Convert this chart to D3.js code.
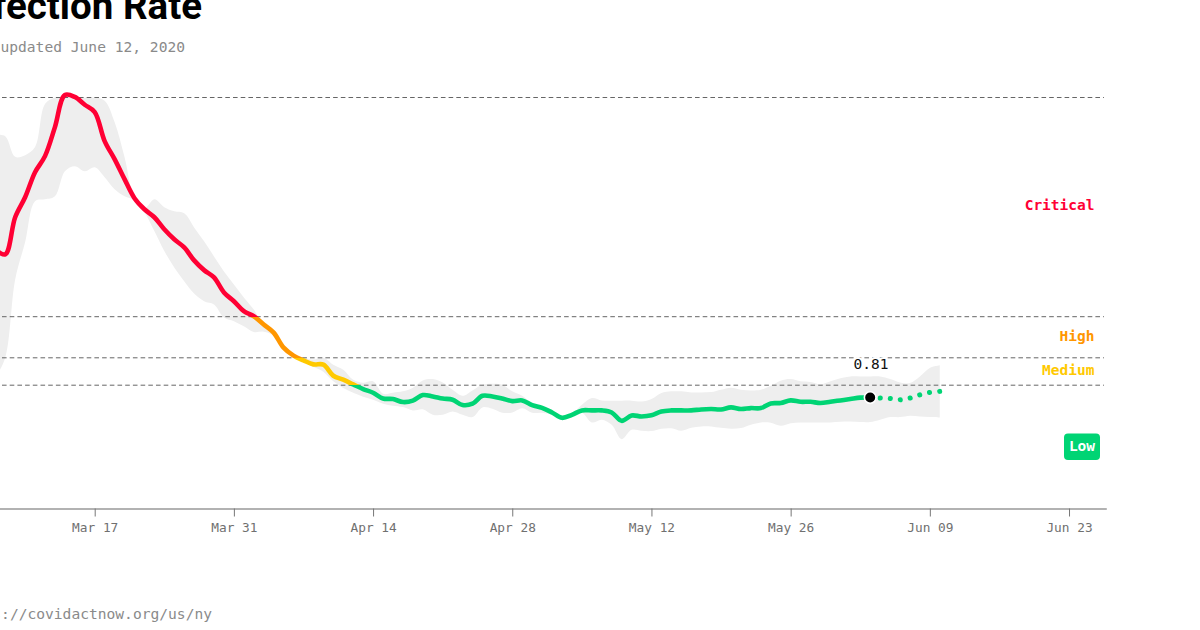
<!DOCTYPE html>
<html><head><meta charset="utf-8">
<script src="https://cdn.jsdelivr.net/npm/d3@7"></script>
<style>
html,body{margin:0;padding:0;background:#fff;overflow:hidden}
svg{display:block}
text{font-family:"DejaVu Sans Mono",monospace}
</style></head><body>
<svg id="c" width="1200" height="630"></svg>
<script>
const titleText = "Infection Rate";
const subtitleText = "Last updated June 12, 2020";
const footerText = "https://covidactnow.org/us/ny";
const startDate = [2020, 2, 7];
const rt = [1.891,1.855,2.126,2.272,2.455,2.572,2.784,3.018,3.004,2.947,2.894,2.682,2.550,2.404,2.265,2.184,2.126,2.038,1.965,1.906,1.811,1.740,1.687,1.577,1.513,
1.440,1.403,1.343,1.284,1.174,1.116,1.081,1.052,1.050,0.969,0.940,0.906,0.872,0.845,0.803,0.799,0.777,0.787,0.828,0.818,0.803,0.794,0.755,0.765,0.823,0.818,0.803,0.784,0.789,0.755,
0.735,0.701,0.662,0.684,0.716,0.716,0.716,0.701,0.640,0.679,0.672,0.680,0.708,0.716,0.716,0.716,0.723,0.726,0.723,0.738,0.726,0.733,0.733,0.767,0.770,0.789,0.779,0.779,0.770,0.779,0.789,
0.799,0.809,0.810,0.806,0.803,0.794,0.806,0.830,0.847,0.855];
const upper = [2.728,2.718,2.567,2.579,2.638,2.952,3.2,3.3,3.3,3.3,3.15,2.977,2.821,2.565,2.265,2.19,2.257,2.199,2.169,2.155,2.052,1.950,1.840,1.730,1.635,
1.540,1.452,1.343,1.284,1.174,1.116,1.101,1.087,1.101,1.050,1.013,0.940,0.918,0.928,0.838,0.845,0.855,0.882,0.935,0.945,0.920,0.867,0.823,0.862,0.904,0.911,0.904,0.855,0.823,0.770,
0.745,0.721,0.672,0.691,0.757,0.806,0.789,0.787,0.787,0.787,0.781,0.799,0.843,0.855,0.855,0.847,0.847,0.850,0.867,0.882,0.867,0.862,0.867,0.896,0.933,0.945,0.928,0.923,0.906,0.928,0.950,
0.964,0.964,0.964,0.964,0.945,0.920,0.916,0.964,1.026,1.045];
const lower = [0.955,1.101,1.672,1.943,2.243,2.257,2.279,2.462,2.499,2.462,2.491,2.418,2.330,2.279,2.250,2.162,2.025,1.879,1.760,1.659,1.569,1.513,1.489,1.394,1.367,
1.330,1.289,1.291,1.262,1.167,1.108,1.072,1.035,0.999,0.928,0.879,0.845,0.816,0.794,0.765,0.750,0.740,0.716,0.724,0.684,0.684,0.708,0.684,0.667,0.738,0.728,0.699,0.701,0.732,0.699,
0.699,0.684,0.655,0.677,0.699,0.628,0.648,0.611,0.506,0.574,0.567,0.565,0.582,0.585,0.567,0.589,0.599,0.599,0.589,0.582,0.587,0.611,0.628,0.626,0.604,0.623,0.628,0.628,0.628,0.628,0.633,
0.635,0.631,0.631,0.648,0.667,0.667,0.677,0.672,0.667,0.664];
const forecastFrom = 88;
const thresholds = [0.9, 1.1, 1.4, 3.0];
const zoneNames = ["Low", "Medium", "High", "Critical"];
const zoneColors = ["#00d474", "#ffc900", "#ff9600", "#ff0034"];
const tickDates = [[2,17],[2,31],[3,14],[3,28],[4,12],[4,26],[5,9],[5,23]];
const currentValueLabel = "0.81";

const day = i => new Date(Date.UTC(startDate[0], startDate[1], startDate[2] + i));
const rows = rt.map((v, i) => ({date: day(i), v, hi: upper[i], lo: lower[i]}));

const x = d3.scaleUtc()
  .domain([new Date(Date.UTC(2020,2,7)), new Date(Date.UTC(2020,5,26,18))])
  .range([-4.72, 1106.3]);
const y = d3.scaleLinear().domain([0, 3]).range([508.5, 97.5]);
const yBand = y.copy().clamp(true);

const svg = d3.select("#c");
const defs = svg.append("defs");

// colour of the line by zone
const bounds = [0, ...thresholds];
const grad = defs.append("linearGradient").attr("id","zone")
  .attr("gradientUnits","userSpaceOnUse")
  .attr("x1",0).attr("x2",0).attr("y1",y(0)).attr("y2",y(3));
zoneColors.forEach((c, i) => {
  grad.append("stop").attr("offset", bounds[i]/3).attr("stop-color", c);
  grad.append("stop").attr("offset", bounds[i+1]/3).attr("stop-color", c);
});
defs.append("clipPath").attr("id","plot").append("rect")
  .attr("x",-10).attr("y",y(3)).attr("width",1200).attr("height",y(0)-y(3));

// band
svg.append("path").datum(rows).attr("fill","#eeeeee").attr("clip-path","url(#plot)")
  .attr("d", d3.area().curve(d3.curveCatmullRom.alpha(0.5))
    .x(d=>x(d.date)).y0(d=>yBand(d.lo)).y1(d=>yBand(d.hi)));

// thresholds
svg.append("g").selectAll("line").data(thresholds).join("line")
  .attr("x1",2).attr("x2",1104)
  .attr("y1",d=>y(d)).attr("y2",d=>y(d))
  .attr("stroke","#666").attr("stroke-width",1).attr("stroke-dasharray","4.6,3.1");

// axis
const axis = d3.axisBottom(x)
  .tickValues(tickDates.map(([m,d])=>new Date(Date.UTC(2020,m,d))))
  .tickFormat(d3.utcFormat("%b %d")).tickSize(8).tickSizeOuter(0).tickPadding(6);
const gx = svg.append("g").attr("transform",`translate(0,${y(0)})`).call(axis);
gx.select(".domain").attr("stroke","#666").attr("stroke-width",1.2);
gx.selectAll(".tick line").attr("stroke","#777");
gx.selectAll(".tick text").attr("fill","#707070").attr("font-size",12.8)
  .attr("font-family",'"DejaVu Sans Mono",monospace');

// line
const line = d3.line().curve(d3.curveCatmullRom.alpha(0.5)).x(d=>x(d.date)).y(d=>y(d.v));
svg.append("path").datum(rows.slice(0, forecastFrom+1))
  .attr("fill","none").attr("stroke","url(#zone)").attr("stroke-width",4.6)
  .attr("stroke-linejoin","round").attr("d",line);
svg.append("path").datum(rows.slice(forecastFrom))
  .attr("fill","none").attr("stroke",zoneColors[0]).attr("stroke-width",5)
  .attr("stroke-linecap","round").attr("stroke-dasharray","0.1,9.95").attr("d",line);

// current point
const cur = rows[forecastFrom];
svg.append("circle").attr("cx",x(cur.date)).attr("cy",y(cur.v)).attr("r",5.8)
  .attr("fill","#000").attr("stroke","#fff").attr("stroke-width",1.6);
svg.append("text").attr("x",x(cur.date)+0.8).attr("y",y(cur.v)-29).attr("text-anchor","middle")
  .attr("font-size",14.5).attr("font-weight",500).attr("fill","#111")
  .attr("stroke","#fff").attr("stroke-width",4).attr("paint-order","stroke")
  .text(currentValueLabel);

// zone labels
const labelX = 1094.5;
[[3,210],[2,340.5],[1,374.5]].forEach(([i,by])=>{
  svg.append("text").attr("x",labelX).attr("y",by).attr("text-anchor","end")
    .attr("font-size",14.5).attr("font-weight",700).attr("fill",zoneColors[i]).text(zoneNames[i]);
});
svg.append("rect").attr("x",1064).attr("y",433.5).attr("width",36).attr("height",26.5).attr("rx",4)
  .attr("fill",zoneColors[0]);
svg.append("text").attr("x",1082).attr("y",451).attr("text-anchor","middle")
  .attr("font-size",14.5).attr("font-weight",700).attr("fill","#fff").text(zoneNames[0]);

// header, footer
svg.append("text").attr("x",202).attr("y",18.5).attr("text-anchor","end")
  .style("font-family","Roboto").attr("font-size",38.5).attr("font-weight",700).attr("fill","#000").text(titleText);
svg.append("text").attr("x",185).attr("y",52).attr("text-anchor","end")
  .attr("font-size",14.6).attr("fill","#8a8a8a").text(subtitleText);
svg.append("text").attr("x",212).attr("y",619).attr("text-anchor","end")
  .attr("font-size",14.6).attr("fill","#8a8a8a").text(footerText);
</script>
</body></html>
